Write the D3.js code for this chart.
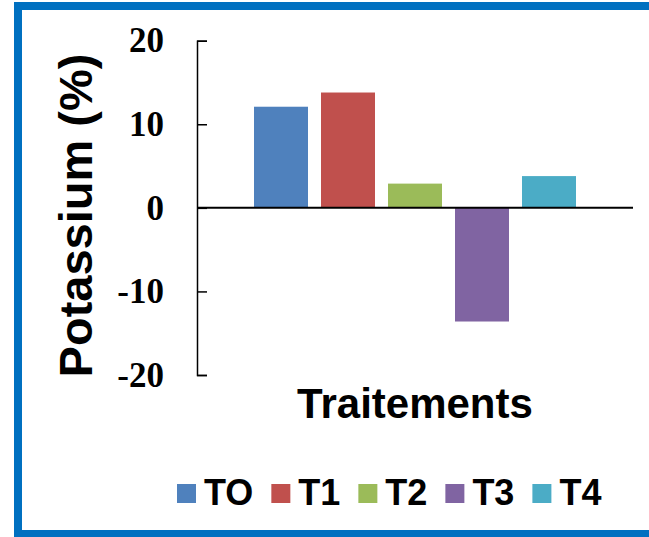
<!DOCTYPE html>
<html>
<head>
<meta charset="utf-8">
<script src="https://cdn.jsdelivr.net/npm/d3@7"></script>
<style>
  body { margin: 0; background: #fff; }
  svg { display: block; }
</style>
</head>
<body>
<div id="chart"></div>
<script>
const width = 649;
const height = 537;

// données
const categories = ["TO", "T1", "T2", "T3", "T4"];
const values = [12.1, 13.8, 2.9, -13.6, 3.8];
const colors = ["#4F81BD", "#C0504D", "#9BBB59", "#8064A2", "#4BACC6"];
const yTicks = [-20, -10, 0, 10, 20];

const svg = d3.select("#chart")
  .append("svg")
  .attr("width", width)
  .attr("height", height);

// cadre bleu
svg.append("rect")
  .attr("x", 18)
  .attr("y", 6)
  .attr("width", 700)
  .attr("height", 528)
  .attr("fill", "#fff")
  .attr("stroke", "#0070C0")
  .attr("stroke-width", 8);

const axisX = 197;
const plotRight = 633;

const y = d3.scaleLinear()
  .domain([-20, 20])
  .range([375, 40.7]);

const x = d3.scaleBand()
  .domain(categories)
  .range([247.5, 582.5])
  .paddingInner(13 / 67)
  .paddingOuter(6.5 / 67);

// barres
svg.selectAll(".bar")
  .data(categories)
  .enter()
  .append("rect")
  .attr("class", "bar")
  .attr("x", d => x(d))
  .attr("width", x.bandwidth())
  .attr("y", (d, i) => y(Math.max(0, values[i])))
  .attr("height", (d, i) => Math.abs(y(values[i]) - y(0)))
  .attr("fill", (d, i) => colors[i]);

// axe Y
const yAxis = svg.append("g")
  .attr("transform", `translate(${axisX},0)`)
  .call(d3.axisLeft(y)
    .tickValues(yTicks)
    .tickSizeInner(-10)
    .tickSizeOuter(-10)
    .tickPadding(33)
    .tickFormat(d => String(d)));

yAxis.select(".domain").attr("stroke", "#000").attr("stroke-width", 1.5);
yAxis.selectAll(".tick line").attr("stroke", "#000").attr("stroke-width", 1.5);
yAxis.selectAll(".tick text")
  .attr("fill", "#000")
  .style("font-family", "'Liberation Serif', 'Times New Roman', serif")
  .style("font-weight", "bold")
  .style("font-size", "35px");

// ligne zéro
svg.append("line")
  .attr("x1", axisX)
  .attr("x2", plotRight)
  .attr("y1", y(0))
  .attr("y2", y(0))
  .attr("stroke", "#000")
  .attr("stroke-width", 2);

// titres
svg.append("text")
  .attr("transform", `translate(92,${(53 + 378) / 2}) rotate(-90)`)
  .attr("text-anchor", "middle")
  .style("font-family", "'Liberation Sans', Arial, sans-serif")
  .style("font-weight", "bold")
  .style("font-size", "47px")
  .text("Potassium (%)");

svg.append("text")
  .attr("x", 415)
  .attr("y", 418)
  .attr("text-anchor", "middle")
  .style("font-family", "'Liberation Sans', Arial, sans-serif")
  .style("font-weight", "bold")
  .style("font-size", "42px")
  .text("Traitements");

// légende
const legend = svg.append("g");
let lx = 177;
categories.forEach((c, i) => {
  legend.append("rect")
    .attr("x", lx)
    .attr("y", 484)
    .attr("width", 19)
    .attr("height", 19)
    .attr("fill", colors[i]);
  const t = legend.append("text")
    .attr("x", lx + 27)
    .attr("y", 505)
    .style("font-family", "'Liberation Sans', Arial, sans-serif")
    .style("font-weight", "bold")
    .style("font-size", "36px")
    .text(c);
  lx += 27 + t.node().getComputedTextLength() + 18;
});
</script>
</body>
</html>
